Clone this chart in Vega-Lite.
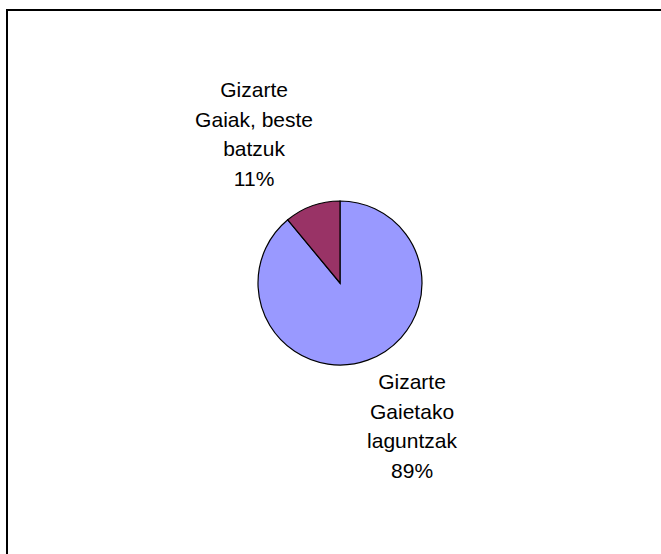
{
  "$schema": "https://vega.github.io/schema/vega-lite/v6.json",
  "autosize": "none",
  "padding": {"left": 7, "top": 10, "right": 0, "bottom": 0},
  "width": 666,
  "height": 546,
  "background": "white",
  "view": {"stroke": "black", "strokeWidth": 2, "fill": "white"},
  "data": {"values": [
    {"category": "Gizarte Gaietako laguntzak", "label": "Gizarte\nGaietako\nlaguntzak\n89%", "value": 89, "order": 1},
    {"category": "Gizarte Gaiak, beste batzuk", "label": "Gizarte\nGaiak, beste\nbatzuk\n11%", "value": 11, "order": 2}
  ]},
  "encoding": {
    "theta": {"field": "value", "type": "quantitative", "stack": true},
    "order": {"field": "order", "type": "quantitative"}
  },
  "layer": [
    {
      "mark": {"type": "arc", "outerRadius": 82, "stroke": "black", "strokeWidth": 1.2},
      "encoding": {
        "color": {
          "field": "category", "type": "nominal",
          "scale": {"domain": ["Gizarte Gaietako laguntzak", "Gizarte Gaiak, beste batzuk"], "range": ["#9999FF", "#993366"]},
          "legend": null
        }
      }
    },
    {
      "mark": {"type": "text", "radius": 171, "dx": -28, "dy": -31, "lineBreak": "\n", "font": "Liberation Sans", "fontSize": 21, "lineHeight": 29.5, "align": "center", "baseline": "middle", "color": "black"},
      "encoding": {"text": {"condition": {"test": "datum.order == 2", "field": "label"}, "value": ""}}
    },
    {
      "mark": {"type": "text", "radius": 130, "dx": 28, "dy": -22, "lineBreak": "\n", "font": "Liberation Sans", "fontSize": 21, "lineHeight": 29.5, "align": "center", "baseline": "middle", "color": "black"},
      "encoding": {"text": {"condition": {"test": "datum.order == 1", "field": "label"}, "value": ""}}
    }
  ]
}
